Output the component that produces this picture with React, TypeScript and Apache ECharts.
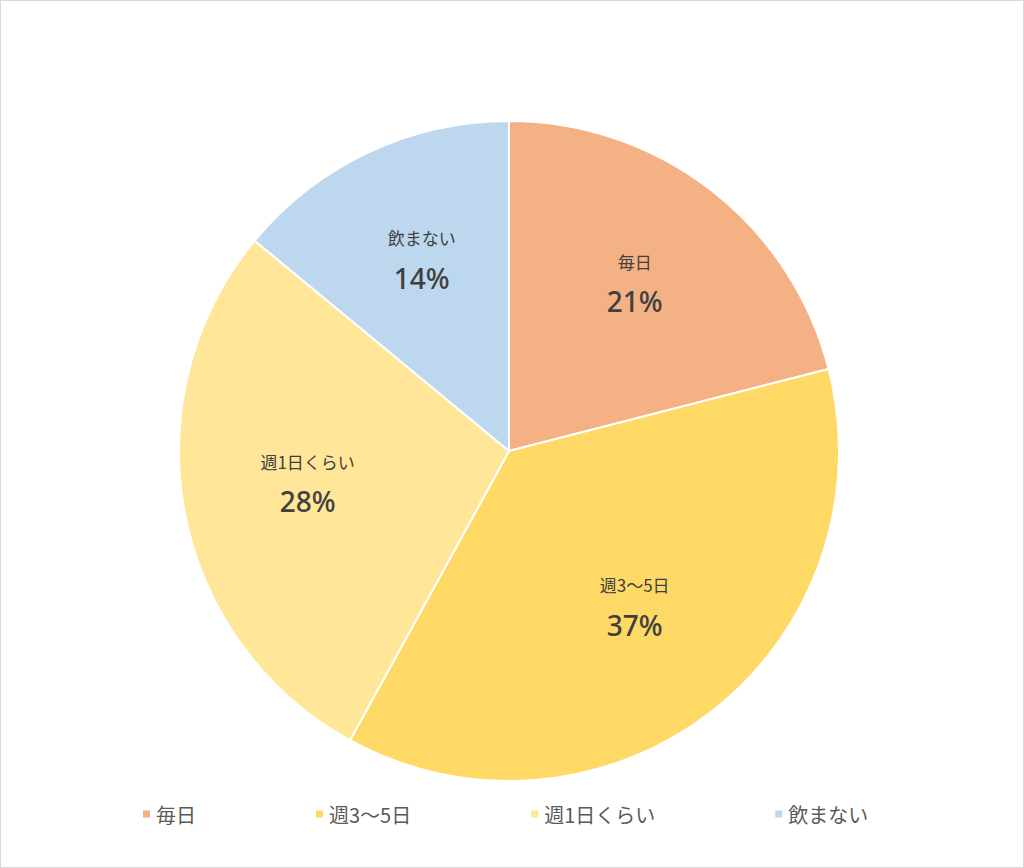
import React, { useEffect, useRef } from "react";
import * as echarts from "echarts";

const categories = ["毎日", "週3〜5日", "週1日くらい", "飲まない"];
const shares = [21, 37, 28, 14];
const colors = ["#F4B183", "#FFD966", "#FFE699", "#BDD7EE"];

const FONT = "'Noto Sans CJK JP', 'Noto Sans', sans-serif";

const App: React.FC = () => {
  const chartRef = useRef<HTMLDivElement>(null);

  useEffect(() => {
    document.body.style.margin = "0";
    if (!chartRef.current) return;
    const chart = echarts.init(chartRef.current, undefined, { renderer: "svg" });

    const data = categories.map((name, i) => ({
      name,
      value: shares[i],
      itemStyle: { color: colors[i] },
    }));

    chart.setOption({
      animation: false,
      textStyle: { fontFamily: FONT },
      legend: {
        bottom: 43,
        left: 140,
        padding: 0,
        icon: "rect",
        itemWidth: 9,
        itemHeight: 9,
        itemGap: 118,
        textStyle: { fontSize: 20, color: "#595959", fontFamily: FONT },
        data: categories,
      },
      series: [
        {
          // the pie itself
          type: "pie",
          center: [508, 450],
          radius: [0, 330],
          startAngle: 90,
          clockwise: true,
          silent: true,
          label: { show: false },
          labelLine: { show: false },
          itemStyle: { borderColor: "#ffffff", borderWidth: 2 },
          data,
        },
        {
          // transparent ring used only to push the labels outwards
          type: "pie",
          center: [508, 450],
          radius: [74, 330],
          startAngle: 90,
          clockwise: true,
          silent: true,
          legendHoverLink: false,
          itemStyle: { color: "transparent", borderWidth: 0 },
          label: {
            show: true,
            position: "inside",
            offset: [0, -6],
            formatter: (p: any) => `{a|${p.name}}\n{b|${p.value}%}`,
            rich: {
              a: { fontSize: 17, color: "#404040", lineHeight: 36, fontFamily: FONT },
              b: {
                fontSize: 28,
                fontWeight: 500,
                color: "#404040",
                lineHeight: 44,
                fontFamily: "'Noto Sans', sans-serif",
              },
            },
          },
          labelLine: { show: false },
          data: categories.map((name, i) => ({ name, value: shares[i] })),
        },
      ],
    });

    return () => chart.dispose();
  }, []);

  return (
    <div
      ref={chartRef}
      style={{
        width: "1024px",
        height: "868px",
        boxSizing: "border-box",
        border: "1px solid #d9d9d9",
        background: "#ffffff",
      }}
    />
  );
};

export default App;
